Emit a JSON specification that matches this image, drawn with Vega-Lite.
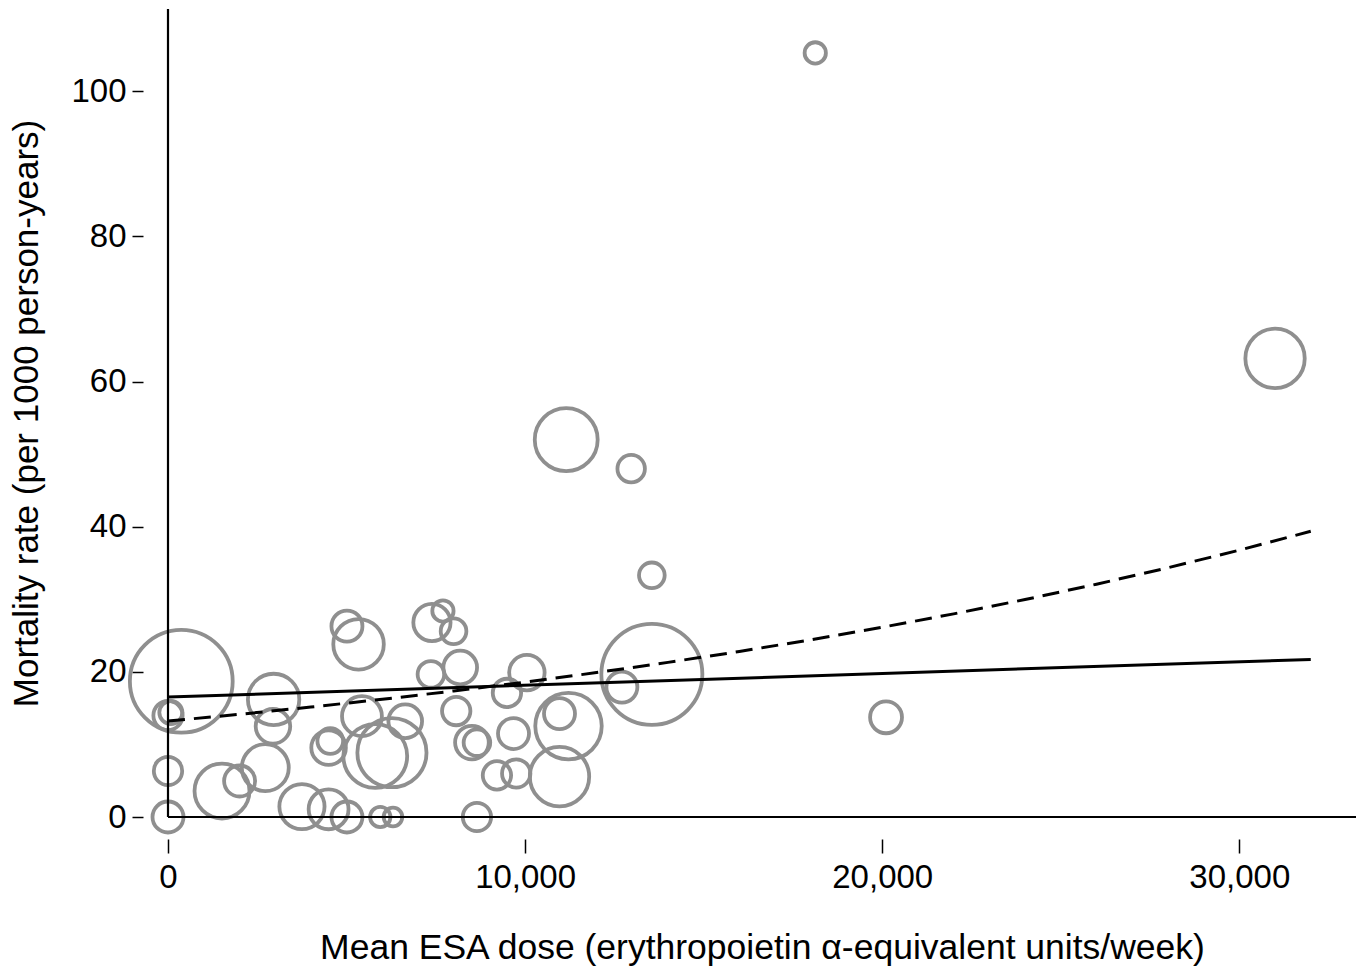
{
  "$schema": "https://vega.github.io/schema/vega-lite/v6.json",
  "width": 1188,
  "height": 808,
  "autosize": {"type": "none"},
  "padding": {"left": 168, "top": 9, "right": 7, "bottom": 154},
  "background": "white",
  "config": {
    "view": {"stroke": null},
    "font": "Liberation Sans",
    "axis": {"labelFont": "Liberation Sans", "titleFont": "Liberation Sans", "labelColor": "black", "titleColor": "black", "tickColor": "black", "grid": false, "domain": false, "titleFontWeight": "normal", "labelFlush": false}
  },
  "datasets": {
    "studies": [
      {"dose": 372, "rate": 18.7, "weight": 3364},
      {"dose": 0, "rate": 14.0, "weight": 272},
      {"dose": 80, "rate": 14.4, "weight": 169},
      {"dose": 0, "rate": 6.34, "weight": 256},
      {"dose": 0, "rate": 0, "weight": 306},
      {"dose": 1512, "rate": 3.58, "weight": 961},
      {"dose": 2005, "rate": 4.96, "weight": 306},
      {"dose": 2724, "rate": 6.8, "weight": 702},
      {"dose": 2957, "rate": 16.2, "weight": 841},
      {"dose": 2939, "rate": 12.5, "weight": 380},
      {"dose": 3751, "rate": 1.43, "weight": 650},
      {"dose": 4497, "rate": 1.06, "weight": 506},
      {"dose": 5011, "rate": 0, "weight": 306},
      {"dose": 5944, "rate": 0, "weight": 132},
      {"dose": 6300, "rate": 0, "weight": 110},
      {"dose": 4497, "rate": 9.56, "weight": 380},
      {"dose": 4544, "rate": 10.47, "weight": 210},
      {"dose": 5011, "rate": 26.3, "weight": 306},
      {"dose": 5336, "rate": 23.8, "weight": 812},
      {"dose": 5431, "rate": 13.9, "weight": 506},
      {"dose": 5804, "rate": 8.4, "weight": 1296},
      {"dose": 6271, "rate": 8.87, "weight": 1521},
      {"dose": 6643, "rate": 13.2, "weight": 361},
      {"dose": 7391, "rate": 26.8, "weight": 441},
      {"dose": 7699, "rate": 28.4, "weight": 144},
      {"dose": 7996, "rate": 25.6, "weight": 210},
      {"dose": 7362, "rate": 19.66, "weight": 225},
      {"dose": 8183, "rate": 20.6, "weight": 361},
      {"dose": 8071, "rate": 14.6, "weight": 256},
      {"dose": 8511, "rate": 10.25, "weight": 361},
      {"dose": 8651, "rate": 10.25, "weight": 225},
      {"dose": 8651, "rate": 0, "weight": 256},
      {"dose": 9211, "rate": 5.74, "weight": 256},
      {"dose": 9751, "rate": 6.0, "weight": 256},
      {"dose": 9491, "rate": 17.1, "weight": 256},
      {"dose": 9675, "rate": 11.5, "weight": 306},
      {"dose": 10050, "rate": 19.9, "weight": 400},
      {"dose": 11151, "rate": 52.0, "weight": 1260},
      {"dose": 12970, "rate": 48.0, "weight": 240},
      {"dose": 13549, "rate": 33.3, "weight": 210},
      {"dose": 13549, "rate": 19.66, "weight": 3249},
      {"dose": 12710, "rate": 17.9, "weight": 306},
      {"dose": 11215, "rate": 12.53, "weight": 1406},
      {"dose": 10963, "rate": 14.24, "weight": 306},
      {"dose": 10963, "rate": 5.56, "weight": 1122},
      {"dose": 18125, "rate": 105.3, "weight": 144},
      {"dose": 20107, "rate": 13.74, "weight": 324},
      {"dose": 31000, "rate": 63.2, "weight": 1122}
    ],
    "linear": [
      {"dose": 0, "rate": 16.53},
      {"dose": 32000, "rate": 21.72}
    ],
    "exponential": [
      {"dose": 0, "rate": 13.22},
      {"dose": 2000, "rate": 14.15},
      {"dose": 4000, "rate": 15.15},
      {"dose": 6000, "rate": 16.22},
      {"dose": 8000, "rate": 17.37},
      {"dose": 10000, "rate": 18.59},
      {"dose": 12000, "rate": 19.90},
      {"dose": 14000, "rate": 21.31},
      {"dose": 16000, "rate": 22.81},
      {"dose": 18000, "rate": 24.42},
      {"dose": 20000, "rate": 26.15},
      {"dose": 22000, "rate": 27.99},
      {"dose": 24000, "rate": 29.97},
      {"dose": 26000, "rate": 32.08},
      {"dose": 28000, "rate": 34.35},
      {"dose": 30000, "rate": 36.77},
      {"dose": 32000, "rate": 39.37}
    ]
  },
  "layer": [
    {
      "data": {"name": "studies"},
      "mark": {"type": "point", "shape": "circle", "filled": false, "stroke": "#8f8f8f", "strokeWidth": 3.8, "opacity": 1},
      "encoding": {
        "x": {"field": "dose", "type": "quantitative", "scale": {"domain": [0, 33267], "nice": false, "zero": false},
          "axis": {"title": "Mean ESA dose (erythropoietin α-equivalent units/week)", "values": [0, 10000, 20000, 30000], "format": ",d", "offset": 22, "tickSize": 14, "tickWidth": 1.5, "labelPadding": 8, "labelFontSize": 33, "titleFontSize": 35.5, "titlePadding": 36}},
        "y": {"field": "rate", "type": "quantitative", "scale": {"domain": [0, 111.35], "nice": false, "zero": false},
          "axis": {"title": "Mortality rate (per 1000 person-years)", "values": [0, 20, 40, 60, 80, 100], "offset": 25, "tickSize": 11, "tickWidth": 1.5, "labelPadding": 6, "labelFontSize": 33, "titleFontSize": 35, "titlePadding": 26}},
        "size": {"field": "weight", "type": "quantitative", "scale": {"type": "linear", "domain": [0, 1000], "range": [0, 3141.6]}, "legend": null}
      }
    },
    {
      "data": {"values": [{"v": 0}]},
      "mark": {"type": "rule", "color": "black", "strokeWidth": 2.2},
      "encoding": {"y": {"datum": 0, "type": "quantitative"}}
    },
    {
      "data": {"values": [{"v": 0}]},
      "mark": {"type": "rule", "color": "black", "strokeWidth": 2.2},
      "encoding": {"x": {"datum": 0, "type": "quantitative"}}
    },
    {
      "data": {"name": "linear"},
      "mark": {"type": "line", "color": "black", "strokeWidth": 3},
      "encoding": {"x": {"field": "dose", "type": "quantitative"}, "y": {"field": "rate", "type": "quantitative"}}
    },
    {
      "data": {"name": "exponential"},
      "mark": {"type": "line", "color": "black", "strokeWidth": 3, "strokeDash": [17, 9]},
      "encoding": {"x": {"field": "dose", "type": "quantitative"}, "y": {"field": "rate", "type": "quantitative"}}
    }
  ]
}
